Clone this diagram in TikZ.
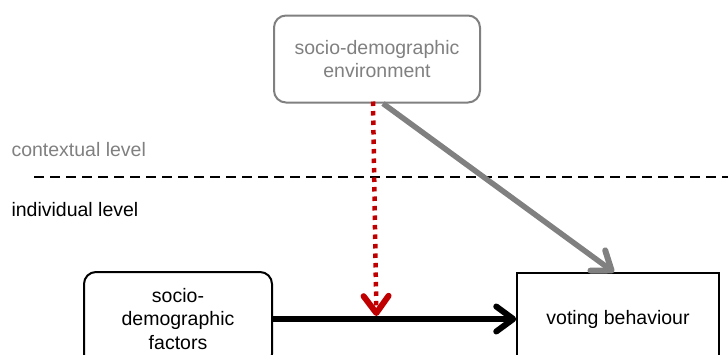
\documentclass[tikz,border=0pt]{standalone}
\usepackage{fontspec}
\setmainfont{Liberation Sans}
\usepackage{xcolor}
\usetikzlibrary{positioning,calc,arrows.meta}
\definecolor{boxgray}{HTML}{808080}
\definecolor{modred}{HTML}{C00000}

\begin{document}
\begin{tikzpicture}[x=1pt,y=-1pt,
    font=\fontsize{19.5}{23.5}\selectfont,
    levelbox/.style={draw, line width=2pt, align=center, inner sep=0pt},
    effect/.style={arrows={-Straight Barb[length=17pt,width=25pt,line width=6pt,round]}}]
    \useasboundingbox (0,0) rectangle (728,354);

    % Boxes
    \node[levelbox, draw=boxgray, text=boxgray, rounded corners=12pt,
          minimum width=206pt, minimum height=87pt] (env) at (377,59)
          {socio-demographic\\environment};
    \node[levelbox, rounded corners=12pt, minimum width=188pt, minimum height=94pt]
          (factors) at (178,319) {socio-\\demographic\\factors};
    \node[levelbox, line width=1.5pt, minimum width=202pt, minimum height=92pt]
          (voting) at (618,319) {voting behaviour};

    % Levels
    \node[text=boxgray, anchor=west] (ctx) at (8,150) {contextual level};
    \node[anchor=west] (ind) at (8,210) {individual level};
    \coordinate (sepL) at (34,177);
    \coordinate (sepR) at (728,177);
    \draw[line width=2pt, dash pattern=on 10pt off 6pt] (sepL) -- (sepR);

    % Effects
    \draw[effect, line width=6pt] (factors.east) -- (voting.west);
    \draw[effect, line width=5.5pt, draw=boxgray] ([xshift=6pt]env.south) -- ([xshift=-4pt]voting.north);
    \coordinate (mod) at ($(factors.east)!0.425!(voting.west)+(0,-3)$);
    \draw[effect, line width=4.5pt, draw=modred, dash pattern=on 4.5pt off 5pt]
        ([xshift=-4pt,yshift=2pt]env.south) -- (mod);
\end{tikzpicture}
\end{document}
